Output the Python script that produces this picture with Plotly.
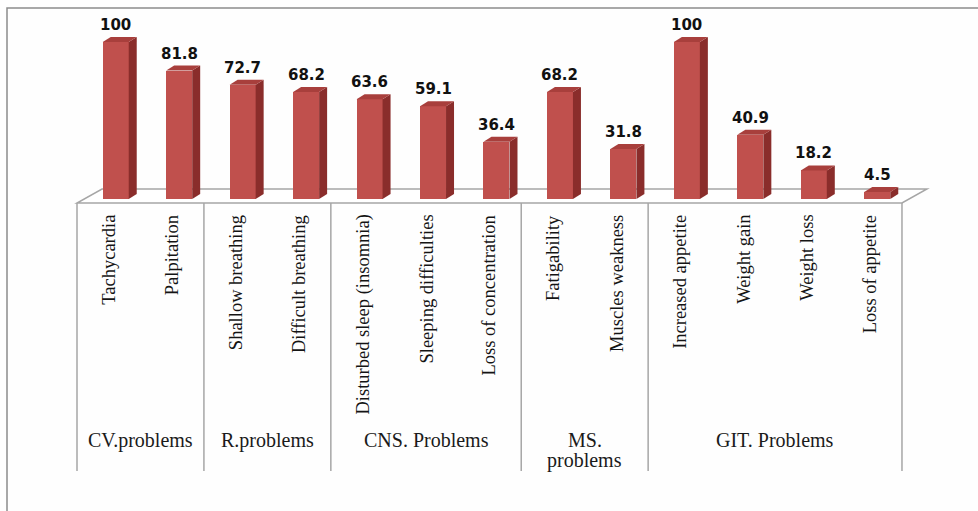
import plotly.graph_objects as go

# ---- data ----
symptoms = ["Tachycardia", "Palpitation", "Shallow breathing", "Difficult breathing",
            "Disturbed sleep (insomnia)", "Sleeping difficulties", "Loss of concentration",
            "Fatigability", "Muscles weakness", "Increased appetite", "Weight gain",
            "Weight loss", "Loss of appetite"]
values = [100, 81.8, 72.7, 68.2, 63.6, 59.1, 36.4, 68.2, 31.8, 100, 40.9, 18.2, 4.5]
value_labels = ["100", "81.8", "72.7", "68.2", "63.6", "59.1", "36.4", "68.2", "31.8",
                "100", "40.9", "18.2", "4.5"]
groups = [["CV.problems"], ["R.problems"], ["CNS. Problems"], ["MS.", "problems"], ["GIT. Problems"]]
group_sizes = [2, 2, 3, 2, 4]

# ---- geometry (pixel scale helpers) ----
W, H = 978, 511
PX = 63.46   # px per category
PY = 1.57    # px per value unit
X0 = 77      # px of category-axis left edge
Y0 = 199     # px of value 0 at bar front

def dxp(p):  # px -> x data units
    return p / PX

def dyp(p):  # px (upwards) -> y data units
    return p / PY

xrange_ = [-X0 / PX, (W - X0) / PX]
yrange_ = [(Y0 - H) / PY, Y0 / PY]

FRONT = "#C0504D"
SIDE = "#8A2D2B"
TOP = "#A83F3C"
LINE = "#A6A6A6"

n = len(values)
fig = go.Figure()

# front faces
centers = [i + 0.5 + dxp(7) for i in range(n)]
bw = dxp(26)
fig.add_trace(go.Bar(x=centers, y=values, width=bw, base=0,
                     marker=dict(color=FRONT, line=dict(width=0)),
                     hoverinfo="skip", showlegend=False))

# side and top faces
ddx, ddy = dxp(8), dyp(5)
for i, v in enumerate(values):
    L = centers[i] - bw / 2
    R = centers[i] + bw / 2
    fig.add_trace(go.Scatter(x=[R, R + ddx, R + ddx, R, R], y=[0, ddy, v + ddy, v, 0],
                             fill="toself", fillcolor=SIDE, mode="lines",
                             line=dict(width=0, color=SIDE), hoverinfo="skip", showlegend=False))
    fig.add_trace(go.Scatter(x=[L, R, R + ddx, L + ddx, L], y=[v, v, v + ddy, v + ddy, v],
                             fill="toself", fillcolor=TOP, mode="lines",
                             line=dict(width=0, color=TOP), hoverinfo="skip", showlegend=False))

shapes = []
# floor
fy = dyp(-4)
by = dyp(10)
bx = dxp(25)
shapes.append(dict(type="path", layer="below",
                   path=f"M 0 {fy} L {n} {fy} L {n + bx} {by} L {bx} {by} Z",
                   xref="x", yref="y", line=dict(color=LINE, width=1.5),
                   fillcolor="rgba(255,255,255,1)"))
# group separators
pos = 0
seps = [0]
for s in group_sizes:
    pos += s
    seps.append(pos)
for sx in seps:
    shapes.append(dict(type="line", xref="x", yref="y", x0=sx, x1=sx, y0=fy, y1=-dyp(471 - Y0),
                       line=dict(color=LINE, width=1.5)))
# chart frame
shapes.append(dict(type="path", xref="paper", yref="paper",
                   path=f"M {7 / W} 0 L {7 / W} {1 - 8 / H} L 1 {1 - 8 / H}",
                   line=dict(color="#8C8C8C", width=1.5)))

annotations = []
for i, (s, lab, v) in enumerate(zip(symptoms, value_labels, values)):
    annotations.append(dict(x=i + 0.5, y=-dyp(213 - Y0), xref="x", yref="y", text=s,
                            textangle=-90, xanchor="center", yanchor="top", showarrow=False,
                            font=dict(family="Liberation Serif", size=18.5, color="#141414")))
    annotations.append(dict(x=centers[i], y=v + ddy, xref="x", yref="y", text=f"<b>{lab}</b>",
                            xanchor="center", yanchor="bottom", yshift=1, showarrow=False,
                            font=dict(family="DejaVu Sans", size=15, color="#111111")))
for g, a, b in zip(groups, seps[:-1], seps[1:]):
    k = len(g)
    for j, line in enumerate(g):
        ypx = 440 + 20 * j
        annotations.append(dict(x=(a + b) / 2, y=-dyp(ypx - Y0), xref="x", yref="y",
                                text=line, xanchor="center", yanchor="middle", showarrow=False,
                                font=dict(family="Liberation Serif", size=20, color="#1a1a1a")))

fig.update_layout(
    width=W, height=H,
    margin=dict(l=0, r=0, t=0, b=0),
    paper_bgcolor="#FEFEFE", plot_bgcolor="rgba(0,0,0,0)",
    xaxis=dict(range=xrange_, visible=False, fixedrange=True),
    yaxis=dict(range=yrange_, visible=False, fixedrange=True),
    shapes=shapes, annotations=annotations,
    bargap=0, showlegend=False,
)
fig.write_html("out.html")
